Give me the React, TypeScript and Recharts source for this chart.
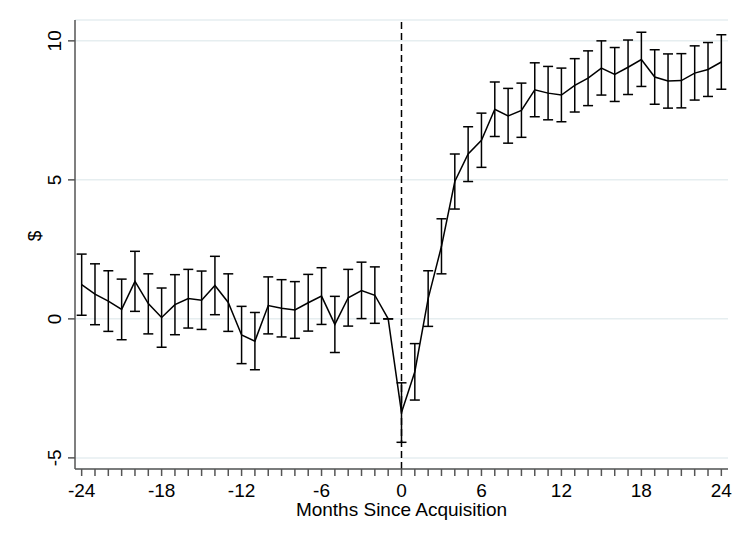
import React from 'react';
import { ComposedChart, Line, XAxis, YAxis, CartesianGrid, ReferenceLine, ErrorBar } from 'recharts';

const months = [-24, -23, -22, -21, -20, -19, -18, -17, -16, -15, -14, -13, -12, -11, -10, -9, -8, -7, -6, -5, -4, -3, -2, -1, 0, 1, 2, 3, 4, 5, 6, 7, 8, 9, 10, 11, 12, 13, 14, 15, 16, 17, 18, 19, 20, 21, 22, 23, 24];
const estimates = [1.23, 0.89, 0.64, 0.34, 1.35, 0.55, 0.05, 0.51, 0.73, 0.67, 1.2, 0.59, -0.58, -0.8, 0.48, 0.38, 0.32, 0.58, 0.82, -0.2, 0.76, 1.02, 0.85, 0, -3.37, -1.9, 0.73, 2.61, 4.94, 5.93, 6.42, 7.54, 7.3, 7.5, 8.24, 8.12, 8.05, 8.4, 8.66, 9.02, 8.79, 9.05, 9.33, 8.7, 8.56, 8.57, 8.84, 8.97, 9.24];
const lowerBounds = [0.13, -0.21, -0.45, -0.75, 0.27, -0.54, -1.02, -0.57, -0.33, -0.38, 0.15, -0.45, -1.61, -1.83, -0.54, -0.65, -0.7, -0.44, -0.2, -1.21, -0.26, 0.01, -0.16, 0, -4.44, -2.92, -0.27, 1.62, 3.95, 4.94, 5.45, 6.56, 6.32, 6.53, 7.27, 7.16, 7.09, 7.44, 7.67, 8.05, 7.82, 8.07, 8.36, 7.72, 7.58, 7.59, 7.87, 8.0, 8.26];
const upperBounds = [2.33, 1.98, 1.73, 1.43, 2.43, 1.62, 1.11, 1.59, 1.78, 1.72, 2.25, 1.62, 0.45, 0.23, 1.51, 1.41, 1.34, 1.6, 1.84, 0.81, 1.78, 2.04, 1.87, 0, -2.3, -0.89, 1.73, 3.6, 5.93, 6.91, 7.4, 8.52, 8.29, 8.48, 9.21, 9.08, 9.02, 9.36, 9.64, 10.0, 9.76, 10.03, 10.31, 9.68, 9.53, 9.54, 9.82, 9.94, 10.22];
const xLabelTicks = [-24, -18, -12, -6, 0, 6, 12, 18, 24];
const yTicks = [-5, 0, 5, 10];

const data = months.map((m, i) => ({
  month: m,
  est: estimates[i],
  err: [estimates[i] - lowerBounds[i], upperBounds[i] - estimates[i]],
}));

const FONT = '"Liberation Sans", Arial, sans-serif';

const YTick = (props: any) => {
  const { x, y, payload } = props;
  return (
    <text x={x} y={y} transform={`rotate(-90 ${x} ${y})`} textAnchor="middle" fontSize={19} fontFamily={FONT} fill="#000">
      {payload.value}
    </text>
  );
};

const YTitle = () => (
  <text x={41} y={236} transform={`rotate(-90 41 236)`} textAnchor="middle" fontSize={19} fontFamily={FONT} fill="#000">
    $
  </text>
);

export default function App() {
  return (
    <div style={{ position: 'absolute', left: 0, top: 0, width: 746, height: 543, background: '#fff' }}>
      <ComposedChart width={746} height={543} data={data} margin={{ top: 20, right: 18, bottom: 0, left: 0 }}>
        <CartesianGrid horizontal vertical={false} stroke="#e6eef0" strokeWidth={1.5} />
        <XAxis
          dataKey="month"
          type="number"
          domain={[-24.5, 24.5]}
          allowDataOverflow
          ticks={months}
          interval={0}
          tickFormatter={(v: number) => (xLabelTicks.includes(v) ? String(v) : '')}
          tickSize={7}
          tickMargin={8}
          height={74}
          stroke="#555"
          strokeWidth={1.5}
          tick={{ fill: '#000', fontSize: 19, fontFamily: FONT }}
          label={{ value: 'Months Since Acquisition', position: 'insideTop', offset: 34, fill: '#000', fontSize: 19, fontFamily: FONT }}
        />
        <YAxis
          type="number"
          domain={[-5.4, 10.75]}
          allowDataOverflow
          ticks={yTicks}
          interval={0}
          width={75}
          tickSize={7}
          tickMargin={7}
          stroke="#555"
          strokeWidth={1.5}
          tick={<YTick />}
          label={YTitle}
        />
        <ReferenceLine x={0} stroke="#000" strokeWidth={1.5} strokeDasharray="7 4" />
        <Line
          dataKey="est"
          stroke="#000"
          strokeWidth={1.5}
          dot={false}
          isAnimationActive={false}
        >
          <ErrorBar dataKey="err" width={5} stroke="#000" strokeWidth={1.5} direction="y" isAnimationActive={false} />
        </Line>
      </ComposedChart>
    </div>
  );
}
